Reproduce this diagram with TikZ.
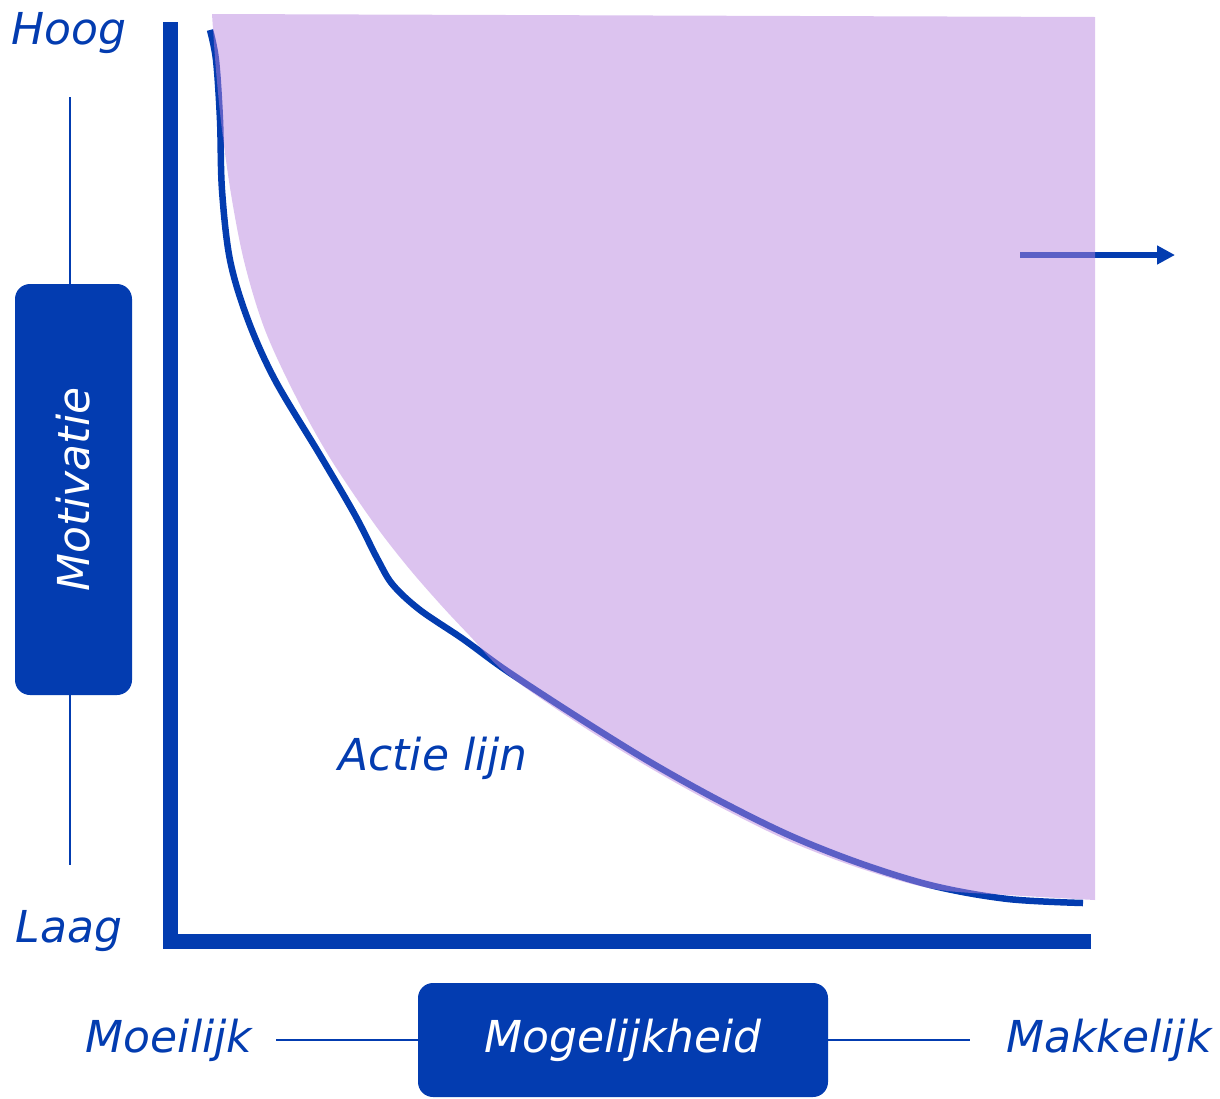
\documentclass[tikz,border=0pt]{standalone}
\usepackage{fontspec}
\setmainfont{DejaVu Sans}
\usetikzlibrary{arrows.meta}
\definecolor{dblue}{RGB}{3,60,176}
\definecolor{lilac}{RGB}{184,133,222}
\begin{document}
\begin{tikzpicture}[x=1pt,y=-1pt,
  lbl/.style={text=dblue,font=\fontsize{44}{52}\selectfont\itshape,inner sep=0pt},
  boxlbl/.style={fill=dblue,text=white,rounded corners=15pt,font=\fontsize{44}{52}\selectfont\itshape,inner sep=0pt},
  thin/.style={draw=dblue,line width=2pt}]
\useasboundingbox (0,0) rectangle (1220,1098);
% axes
\draw[dblue,line width=15pt] (170,22) -- (170,941) -- (1091,941);
% action line
\draw[dblue,line width=6.5pt] plot[smooth,tension=0.55] coordinates {
 (210,30) (216,60) (220,120) (222,190) (230,260) (248,320) (275,380) (320,455)
 (355,515) (378,560) (393,585) (420,610) (463,639) (507,671) (579,718) (650,762)
 (720,801) (791,836) (862,864) (934,886) (1008,899) (1083,903)};
% arrow
\draw[dblue,line width=6pt,-{Triangle[length=18pt,width=18pt]}] (1020,255) -- (1175,255);
% fill region
\fill[lilac,fill opacity=0.49] (212,14) -- (1095,17) -- (1095,900)
  plot[smooth,tension=0.55] coordinates {(1095,900) (1008,895) (934,889) (862,869)
  (791,842) (720,807) (650,768) (579,724) (507,674) (470,636) (440,604) (407,566) (373,522)
  (330,458) (295,395) (265,330) (245,265) (232,200) (222,130) (216,70) (212,14)} -- cycle;
% labels
\node[lbl] (hoog) at (69,33) {Hoog};
\node[lbl] (laag) at (69,931) {Laag};
\node[boxlbl,minimum width=117pt,minimum height=411pt] (mot) at (73.5,489.5) {};
\node[text=white,font=\fontsize{44}{52}\selectfont\itshape,rotate=90,inner sep=0pt] at (mot.center) {Motivatie};
\coordinate (vt) at (70,97);
\coordinate (vb) at (70,865);
\draw[thin] (vt) -- (mot.north -| vt);
\draw[thin] (mot.south -| vb) -- (vb);
\node[boxlbl,minimum width=410pt,minimum height=114pt] (mog) at (623,1040) {Mogelijkheid};
\node[lbl] (moe) at (169,1040) {Moeilijk};
\node[lbl] (mak) at (1109,1040) {Makkelijk};
\coordinate (hl) at (276,1040);
\coordinate (hr) at (970,1040);
\draw[thin] (hl) -- (mog.west);
\draw[thin] (mog.east) -- (hr);
\node[lbl] (actie) at (433,758) {Actie lijn};
\end{tikzpicture}
\end{document}
